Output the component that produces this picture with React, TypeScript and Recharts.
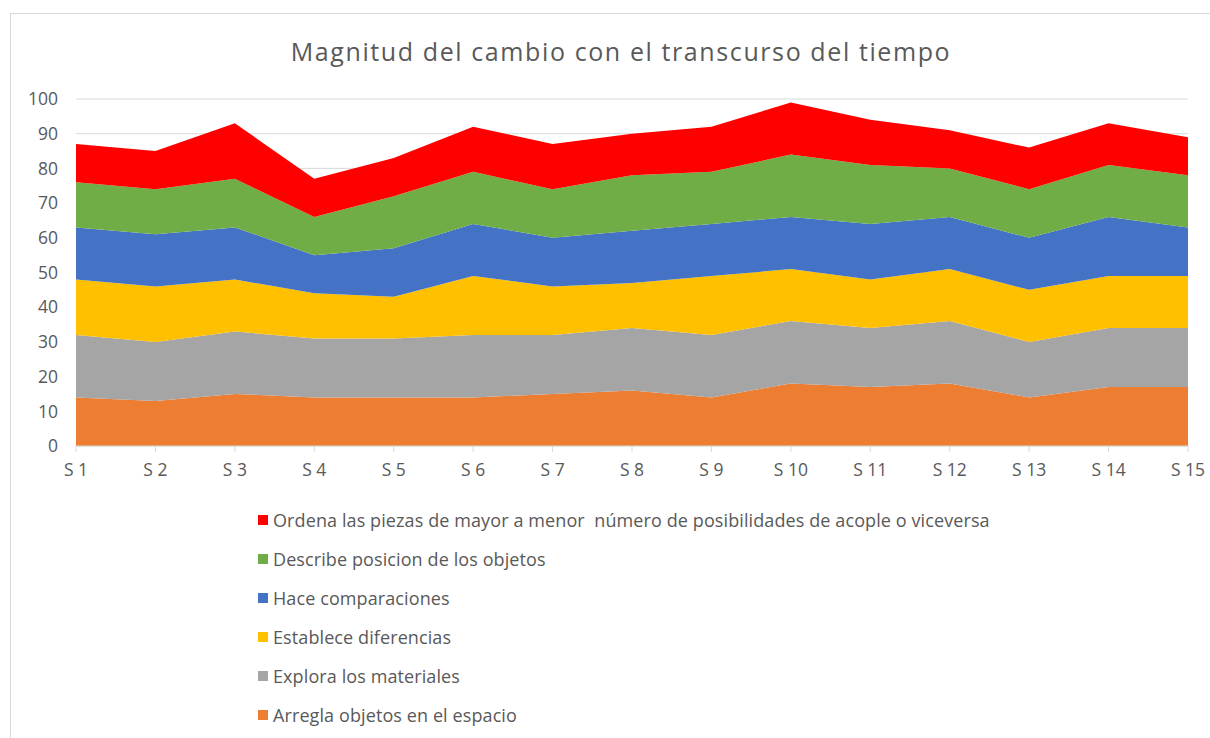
import React from "react";
import { AreaChart, Area, XAxis, YAxis, CartesianGrid } from "recharts";

const categories = ["S 1", "S 2", "S 3", "S 4", "S 5", "S 6", "S 7", "S 8", "S 9", "S 10", "S 11", "S 12", "S 13", "S 14", "S 15"];

const arregla = [14, 13, 15, 14, 14, 14, 15, 16, 14, 18, 17, 18, 14, 17, 17];
const explora = [18, 17, 18, 17, 17, 18, 17, 18, 18, 18, 17, 18, 16, 17, 17];
const establece = [16, 16, 15, 13, 12, 17, 14, 13, 17, 15, 14, 15, 15, 15, 15];
const hace = [15, 15, 15, 11, 14, 15, 14, 15, 15, 15, 16, 15, 15, 17, 14];
const describe = [13, 13, 14, 11, 15, 15, 14, 16, 15, 18, 17, 14, 14, 15, 15];
const ordena = [11, 11, 16, 11, 11, 13, 13, 12, 13, 15, 13, 11, 12, 12, 11];

const yTicks = [0, 10, 20, 30, 40, 50, 60, 70, 80, 90, 100];

const series = [
  { key: "arregla", name: "Arregla objetos en el espacio", color: "#ED7D31", values: arregla },
  { key: "explora", name: "Explora los materiales", color: "#A5A5A5", values: explora },
  { key: "establece", name: "Establece diferencias", color: "#FFC000", values: establece },
  { key: "hace", name: "Hace comparaciones", color: "#4472C4", values: hace },
  { key: "describe", name: "Describe posicion de los objetos", color: "#70AD47", values: describe },
  { key: "ordena", name: "Ordena las piezas de mayor a menor  número de posibilidades de acople o viceversa", color: "#FF0000", values: ordena },
];

const data = categories.map((c, i) => {
  const row: Record<string, any> = { name: c };
  series.forEach((s) => (row[s.key] = s.values[i]));
  return row;
});

const FONT = "'Open Sans', sans-serif";
const TXT = "#595959";

export default function App() {
  return (
    <div style={{ position: "fixed", left: 0, top: 0, width: 1210, height: 738, overflow: "hidden", background: "#fff", fontFamily: FONT }}>
      <div style={{ position: "absolute", left: 10, top: 13, width: 1220, height: 760, border: "1px solid #d9d9d9", boxSizing: "border-box" }} />
      <div style={{ position: "absolute", left: 0, width: 1242, top: 34, textAlign: "center", fontSize: 25, letterSpacing: 1.6, color: TXT, lineHeight: "34px" }}>
        Magnitud del cambio con el transcurso del tiempo
      </div>
      <div style={{ position: "absolute", left: 0, top: 0 }}>
        <AreaChart width={1210} height={738} data={data} margin={{ top: 99, right: 22, bottom: 262, left: 16 }}>
          <CartesianGrid vertical={false} stroke="#d9d9d9" strokeWidth={1} />
          <XAxis
            dataKey="name"
            stroke="#d9d9d9"
            tickLine={{ stroke: "#d9d9d9" }}
            tickSize={6}
            tickMargin={12}
            tick={{ fill: TXT, fontSize: 17.5, fontFamily: FONT }}
            interval={0}
            height={30}
          />
          <YAxis
            domain={[0, 100]}
            ticks={yTicks}
            axisLine={false}
            tickLine={false}
            tickSize={0}
            tickMargin={18}
            width={60}
            tick={{ fill: TXT, fontSize: 17.5, fontFamily: FONT }}
          />
          {series.map((s) => (
            <Area
              key={s.key}
              type="linear"
              dataKey={s.key}
              name={s.name}
              stackId="1"
              stroke="none"
              fill={s.color}
              fillOpacity={1}
              isAnimationActive={false}
            />
          ))}
        </AreaChart>
      </div>
      <div style={{ position: "absolute", left: 258, top: 500 }}>
        {[...series].reverse().map((s) => (
          <div key={s.key} style={{ display: "flex", alignItems: "center", height: 39, fontSize: 18, letterSpacing: 0.1, color: TXT, whiteSpace: "pre" }}>
            <span style={{ display: "inline-block", width: 10, height: 10, background: s.color, marginRight: 5 }} />
            <span>{s.name}</span>
          </div>
        ))}
      </div>
    </div>
  );
}
